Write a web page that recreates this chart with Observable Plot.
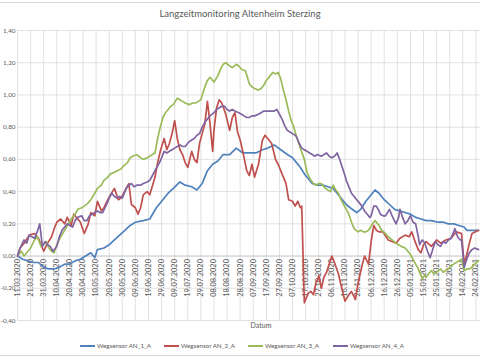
<!DOCTYPE html>
<html>
<head>
<meta charset="utf-8">
<script src="https://cdn.jsdelivr.net/npm/d3@7"></script>
<script src="https://cdn.jsdelivr.net/npm/@observablehq/plot@0.6"></script>
<style>
  html, body { margin: 0; padding: 0; background: #fff; }
  body { width: 480px; height: 360px; overflow: hidden; position: relative; font-family: Lato, "Open Sans", sans-serif; color: #595959; }
  #frame { position: absolute; left: -2px; top: 2px; width: 484px; height: 354px; border: 1px solid #d9d9d9; box-sizing: border-box; }
  #chart { position: absolute; left: 0; top: 0; }
  #title { position: absolute; left: 0; width: 480px; top: 8px; text-align: center; font-size: 9.5px; }
  #xtitle { position: absolute; left: 241px; width: 40px; top: 321px; text-align: center; font-size: 7px; }
  #legend { position: absolute; top: 342px; left: 0; width: 480px; font-size: 6.2px; white-space: nowrap; }
  .item { position: absolute; top: 0; display: flex; align-items: center; }
  .sw { display: inline-block; width: 15px; height: 2px; margin-right: 2px; }
</style>
</head>
<body>
<div id="frame"></div>
<div id="chart"></div>
<div id="title">Langzeitmonitoring Altenheim Sterzing</div>
<div id="xtitle">Datum</div>
<div id="legend"></div>
<script>
// ---- data (days since 11.03.2020, sensor values) ----
const startDate = new Date(Date.UTC(2020, 2, 11));
const seriesNames = ["Wegsensor AN_1_A", "Wegsensor AN_2_A", "Wegsensor AN_3_A", "Wegsensor AN_4_A"];
const seriesColors = ["#4F81BD", "#C0504D", "#9BBB59", "#8064A2"];
const yTicks = [-0.4, -0.2, 0, 0.2, 0.4, 0.6, 0.8, 1.0, 1.2, 1.4];
const xTickDays = d3.range(0, 351, 10);

const blueDays = [0,4,8,12,16,20,24,28,32,36,40,44,48,52,56,59,61,66,70,74,78,82,86,90,96,101,106,111,115,119,124,128,133,137,141,145,149,153,157,162,167,172,177,182,187,191,196,201,206,210,213,216,219,222,225,229,233,237,241,244,247,251,254,259,262,266,270,273,276,280,284,288,292,296,300,304,308,312,316,321,325,329,333,337,341,343,347,352];
const blueVals = [0.00,-0.02,-0.03,-0.04,-0.04,-0.07,-0.08,-0.08,-0.07,-0.05,-0.05,-0.03,-0.02,0.00,0.02,-0.01,0.04,0.05,0.07,0.10,0.13,0.16,0.19,0.21,0.22,0.23,0.30,0.35,0.39,0.42,0.46,0.44,0.43,0.41,0.45,0.53,0.57,0.59,0.63,0.63,0.67,0.64,0.64,0.64,0.66,0.67,0.69,0.66,0.63,0.61,0.58,0.55,0.51,0.48,0.45,0.44,0.44,0.43,0.42,0.39,0.36,0.32,0.30,0.27,0.29,0.34,0.38,0.41,0.39,0.35,0.32,0.29,0.28,0.27,0.26,0.24,0.23,0.22,0.22,0.21,0.21,0.20,0.20,0.19,0.18,0.16,0.16,0.16];

const redDays = [0,2,5,9,13,16,18,20,23,26,28,30,33,36,38,41,43,46,48,51,54,56,59,61,64,66,69,71,74,77,79,83,85,87,90,92,94,96,99,101,105,107,109,112,114,116,118,120,122,124,126,128,130,133,135,137,139,141,143,145,147,149,150,152,154,156,159,162,164,166,168,170,172,175,177,179,181,184,187,189,191,194,197,199,201,203,205,207,210,212,214,216,217,219,221,222,224,226,228,229,230,232,234,236,238,240,242,245,247,250,253,255,258,260,263,265,268,270,272,274,276,279,283,286,289,292,296,299,301,304,306,308,310,312,316,320,323,327,331,335,339,340,341,343,345,347,352];
const redVals = [0.00,0.05,0.08,0.13,0.14,0.11,0.07,0.03,0.08,0.12,0.17,0.21,0.23,0.20,0.24,0.19,0.26,0.23,0.21,0.14,0.20,0.27,0.25,0.34,0.28,0.30,0.35,0.38,0.42,0.35,0.36,0.42,0.45,0.32,0.30,0.26,0.30,0.38,0.40,0.38,0.49,0.58,0.65,0.73,0.66,0.70,0.76,0.84,0.73,0.66,0.63,0.58,0.55,0.65,0.60,0.58,0.70,0.76,0.82,0.96,0.82,0.65,0.78,0.92,0.97,0.95,0.88,0.78,0.86,0.89,0.77,0.72,0.65,0.53,0.50,0.57,0.49,0.57,0.72,0.75,0.73,0.70,0.60,0.57,0.53,0.49,0.45,0.35,0.34,0.31,0.34,0.30,0.31,-0.29,-0.25,-0.23,-0.22,-0.24,-0.16,-0.15,-0.12,-0.20,-0.13,-0.10,-0.05,0.00,-0.04,-0.11,-0.18,-0.28,-0.24,-0.22,-0.27,-0.17,-0.06,0.00,-0.05,0.09,0.19,0.16,0.15,0.15,0.10,0.09,0.08,0.11,0.13,0.12,0.15,0.08,0.04,0.02,0.07,0.09,0.06,0.10,0.08,0.10,0.11,0.15,0.14,0.05,-0.05,0.01,0.08,0.14,0.16];

const greenDays = [0,3,5,8,10,13,15,18,20,22,24,26,28,30,33,36,39,41,44,46,49,51,54,56,59,61,64,66,69,71,74,76,79,81,84,86,88,91,94,96,99,101,103,105,107,109,111,113,115,117,119,122,124,126,128,131,134,136,138,140,143,145,147,150,153,155,157,159,162,164,167,169,171,174,177,179,181,184,186,188,190,193,195,197,199,201,203,205,207,209,211,213,216,219,221,224,226,228,230,232,235,237,239,241,243,245,247,249,251,253,255,257,260,262,264,266,268,271,273,276,278,281,283,286,289,291,293,296,298,300,302,304,306,308,309,311,312,314,316,318,320,323,325,327,329,331,333,335,337,339,341,343,345,347,349,352];
const greenVals = [0.00,0.03,0.00,0.03,0.05,0.10,0.12,0.06,0.07,0.09,0.05,0.03,0.02,0.07,0.12,0.16,0.20,0.23,0.26,0.29,0.30,0.31,0.33,0.35,0.39,0.42,0.44,0.47,0.49,0.51,0.52,0.53,0.54,0.56,0.58,0.61,0.62,0.63,0.61,0.60,0.61,0.62,0.63,0.64,0.73,0.80,0.86,0.89,0.91,0.93,0.94,0.98,0.97,0.96,0.95,0.94,0.95,0.95,0.96,0.97,1.05,1.09,1.11,1.08,1.12,1.16,1.19,1.20,1.18,1.17,1.19,1.18,1.16,1.15,1.07,1.05,1.04,1.03,1.04,1.06,1.09,1.12,1.14,1.13,1.14,1.10,1.03,0.97,0.90,0.84,0.80,0.74,0.67,0.60,0.52,0.47,0.45,0.44,0.45,0.45,0.42,0.41,0.40,0.44,0.41,0.39,0.35,0.32,0.29,0.26,0.21,0.17,0.15,0.16,0.15,0.15,0.16,0.20,0.22,0.19,0.16,0.14,0.12,0.10,0.08,0.07,0.06,0.05,0.03,0.01,-0.02,-0.05,-0.08,-0.12,-0.14,-0.12,-0.13,-0.11,-0.09,-0.11,-0.10,-0.08,-0.10,-0.09,-0.08,-0.06,-0.05,-0.04,-0.03,-0.02,-0.09,-0.08,-0.08,-0.07,-0.05,-0.03];

const purpleDays = [0,2,5,7,9,11,13,15,17,19,21,23,25,27,29,30,32,34,36,38,40,42,44,46,49,51,53,55,57,59,61,63,65,68,70,72,74,76,78,80,83,85,87,89,91,94,96,99,101,103,105,107,109,112,114,116,118,120,122,124,126,128,131,133,135,137,139,141,143,145,147,150,152,154,156,158,160,162,164,166,169,171,173,175,177,179,181,184,186,188,191,193,196,198,200,202,204,206,208,210,212,213,215,217,219,221,223,225,227,229,232,234,236,238,240,242,244,246,248,250,251,253,255,257,259,261,263,265,267,269,270,272,274,276,277,279,281,284,286,289,291,292,294,296,298,300,302,304,306,307,309,311,313,315,317,319,321,323,325,327,329,331,334,336,338,339,341,343,345,347,349,352];
const purpleVals = [0.00,0.05,0.10,0.08,0.13,0.12,0.11,0.15,0.20,0.06,0.09,0.07,0.06,0.03,0.05,0.06,0.12,0.16,0.18,0.20,0.19,0.18,0.22,0.24,0.25,0.22,0.22,0.25,0.26,0.27,0.28,0.27,0.27,0.32,0.36,0.39,0.37,0.36,0.37,0.36,0.42,0.44,0.45,0.43,0.44,0.44,0.45,0.46,0.47,0.50,0.53,0.56,0.59,0.65,0.64,0.65,0.66,0.67,0.68,0.69,0.68,0.68,0.71,0.72,0.73,0.75,0.76,0.80,0.83,0.85,0.87,0.89,0.91,0.92,0.93,0.93,0.91,0.90,0.91,0.90,0.89,0.88,0.87,0.86,0.86,0.87,0.87,0.88,0.89,0.90,0.90,0.90,0.90,0.91,0.88,0.85,0.81,0.78,0.77,0.76,0.75,0.74,0.70,0.67,0.66,0.65,0.64,0.63,0.62,0.63,0.62,0.63,0.64,0.62,0.61,0.62,0.64,0.60,0.55,0.50,0.47,0.43,0.39,0.37,0.35,0.33,0.31,0.28,0.26,0.24,0.25,0.31,0.31,0.28,0.26,0.25,0.25,0.29,0.25,0.20,0.24,0.29,0.24,0.20,0.22,0.25,0.21,0.20,0.12,0.07,0.10,0.08,0.03,-0.01,0.04,0.09,0.07,0.06,0.09,0.08,0.10,0.11,0.17,0.12,0.10,0.10,-0.07,-0.02,0.02,0.04,0.05,0.04];

// ---- build table ----
const seriesDays = [blueDays, redDays, greenDays, purpleDays];
const seriesVals = [blueVals, redVals, greenVals, purpleVals];
const rows = [];
seriesNames.forEach((name, i) => {
  seriesDays[i].forEach((d, j) => rows.push({series: name, day: d, value: seriesVals[i][j]}));
});
const fmtDate = d3.utcFormat("%d.%m.%Y");
const dayLabel = d => fmtDate(d3.utcDay.offset(startDate, d));
const yFmt = v => (v < 0 ? "-" : "") + Math.abs(v).toFixed(2).replace(".", ",");

const chart = Plot.plot({
  width: 480,
  height: 360,
  marginLeft: 17,
  marginRight: 0,
  marginTop: 30,
  marginBottom: 40,
  style: {background: "transparent", fontFamily: "Lato, 'Open Sans', sans-serif", color: "#595959", overflow: "hidden"},
  x: {domain: [0, 353.5], axis: null},
  y: {domain: [-0.4, 1.4], axis: null},
  color: {domain: seriesNames, range: seriesColors},
  marks: [
    Plot.ruleX(xTickDays, {x: d => d, y1: -0.4, y2: 1.4, stroke: "#d9d9d9", strokeWidth: 0.8}),
    Plot.ruleY(yTicks, {y: d => d, stroke: "#d9d9d9", strokeWidth: 0.8}),
    Plot.ruleY([0], {stroke: "#c8c8c8", strokeWidth: 0.8}),
    Plot.text(yTicks, {x: 0, y: d => d, text: yFmt, textAnchor: "end", dx: -2, fontSize: 6.3, fill: "#595959"}),
    Plot.text(xTickDays, {x: d => d, y: 0, text: dayLabel, rotate: -90, textAnchor: "end", dy: 3, fontSize: 7.4, fill: "#595959"}),
    Plot.line(rows, {x: "day", y: "value", z: "series", stroke: "series", strokeWidth: 1.7, curve: "linear"})
  ]
});
document.getElementById("chart").appendChild(chart);

// ---- legend ----
const legendX = [80, 164, 248, 333];
const legend = document.getElementById("legend");
seriesNames.forEach((name, i) => {
  const item = document.createElement("div");
  item.className = "item";
  item.style.left = legendX[i] + "px";
  const sw = document.createElement("span");
  sw.className = "sw";
  sw.style.background = seriesColors[i];
  item.appendChild(sw);
  const t = document.createElement("span");
  t.textContent = name;
  item.appendChild(t);
  legend.appendChild(item);
});
</script>
</body>
</html>
